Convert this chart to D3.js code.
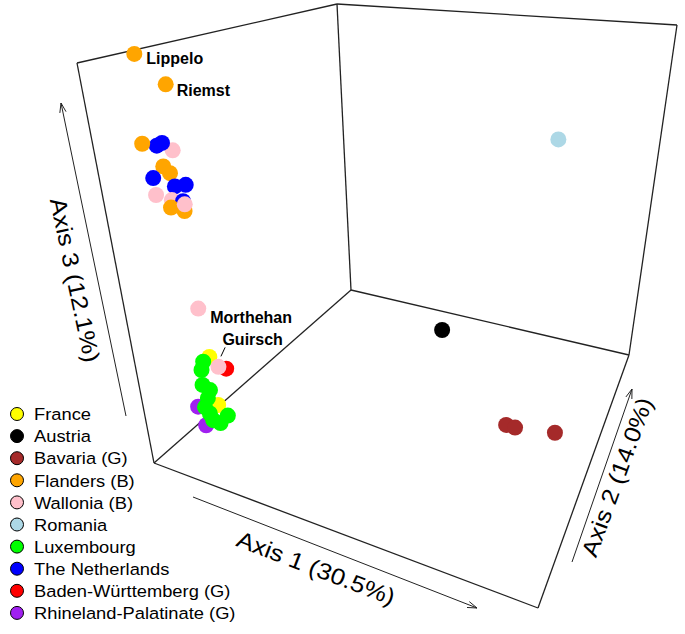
<!DOCTYPE html>
<html>
<head>
<meta charset="utf-8">
<script src="https://cdn.jsdelivr.net/npm/d3@7"></script>
<style>
body { margin: 0; background: #fff; }
text { font-family: "Liberation Sans", Arial, sans-serif; }
</style>
</head>
<body>
<script>
// groups, legend order
const groups = ['France', 'Austria', 'Bavaria (G)', 'Flanders (B)', 'Wallonia (B)', 'Romania',
  'Luxembourg', 'The Netherlands', 'Baden-Württemberg (G)', 'Rhineland-Palatinate (G)'];
const groupColors = ['#FFFF00', '#000000', '#A52A2A', '#FFA500', '#FFC0CB', '#ADD8E6',
  '#00FF00', '#0000FF', '#FF0000', '#A020F0'];

// samples, in drawing order
const ptGroup = [3, 3, 4, 7, 7, 3, 3, 3, 7, 7, 7, 4, 4, 7, 3, 3, 4,
  4, 0, 0, 9, 9, 8, 6, 6, 6, 6, 6, 6, 6, 6, 6, 6, 4,
  1, 2, 2, 2, 5];
const ptAxis1 = [-0.5, -0.5, -0.5, -0.5, -0.5, -0.5, -0.5, -0.5, -0.5, -0.5, -0.5, -0.5, -0.5, -0.5, -0.5, -0.5, -0.5,
  -0.5, -0.5, -0.5, -0.5, -0.5, -0.5, -0.5, -0.5, -0.5, -0.5, -0.5, -0.5, -0.5, -0.5, -0.5, -0.5, -0.5,
  -0.128, 0.223, 0.251, 0.368, 0.183];
const ptAxis2 = [-0.282, -0.183, -0.196, -0.255, -0.233, -0.310, -0.243, -0.221, -0.290, -0.210, -0.166, -0.290, -0.231, -0.187, -0.239, -0.187, -0.182,
  -0.194, -0.179, -0.173, -0.263, -0.241, -0.113, -0.209, -0.222, -0.228, -0.199, -0.214, -0.233, -0.216, -0.206, -0.175, -0.137, -0.146,
  0.422, 0.119, 0.119, 0.144, 0.5];
const ptAxis3 = [0.490, 0.390, 0.212, 0.239, 0.241, 0.257, 0.180, 0.156, 0.161, 0.117, 0.109, 0.116, 0.086, 0.070, 0.068, 0.043, 0.060,
  -0.222, -0.361, -0.496, -0.459, -0.519, -0.423, -0.361, -0.378, -0.416, -0.443, -0.458, -0.474, -0.499, -0.522, -0.545, -0.543, -0.403,
  -0.5, -0.5, -0.5, -0.5, 0.117];

// named samples
const labelText = ['Lippelo', 'Riemst', 'Morthehan', 'Guirsch'];
const labelPoint = [0, 1, 17, 33];

const axisTitles = ['Axis 1 (30.5%)', 'Axis 2 (14.0%)', 'Axis 3 (12.1%)'];
const axisDomain = [-0.5, 0.5];

const width = 685, height = 634;

const svg = d3.select('body').append('svg')
  .attr('width', width).attr('height', height);

svg.append('rect').attr('width', width).attr('height', height).attr('fill', '#fff');

// scales to box fractions
const s1 = d3.scaleLinear().domain(axisDomain).range([0, 1]);
const s2 = d3.scaleLinear().domain(axisDomain).range([0, 1]);
const s3 = d3.scaleLinear().domain(axisDomain).range([0, 1]);

// screen position of the box corners, key = u v w
const corner = {
  '000': [154, 463], '100': [538, 608], '010': [351, 290], '110': [629, 355],
  '001': [77, 63], '101': [610, 150], '011': [337, 4], '111': [677, 25]
};

function project(a1, a2, a3) {
  const u = s1(a1), v = s2(a2), w = s3(a3);
  let x = 0, y = 0;
  for (const k in corner) {
    const wt = (k[0] === '1' ? u : 1 - u) * (k[1] === '1' ? v : 1 - v) * (k[2] === '1' ? w : 1 - w);
    x += wt * corner[k][0];
    y += wt * corner[k][1];
  }
  return [x, y];
}

// box: the three back faces
const lo = axisDomain[0], hi = axisDomain[1];
const edges = [
  [[lo, lo, hi], [lo, hi, hi]], [[lo, hi, hi], [hi, hi, hi]], [[lo, hi, hi], [lo, hi, lo]],
  [[hi, hi, hi], [hi, hi, lo]], [[lo, hi, lo], [hi, hi, lo]], [[lo, hi, lo], [lo, lo, lo]],
  [[lo, lo, hi], [lo, lo, lo]], [[lo, lo, lo], [hi, lo, lo]], [[hi, lo, lo], [hi, hi, lo]]
];

svg.append('g').selectAll('line').data(edges).enter()
  .append('line')
  .attr('x1', d => project(...d[0])[0]).attr('y1', d => project(...d[0])[1])
  .attr('x2', d => project(...d[1])[0]).attr('y2', d => project(...d[1])[1])
  .attr('stroke', '#222').attr('stroke-width', 1.3);

// axis arrows
const arrows = [
  {x1: 193, y1: 497, x2: 477, y2: 608},
  {x1: 572, y1: 562, x2: 632, y2: 389},
  {x1: 126, y1: 416, x2: 61, y2: 103}
];
const ga = svg.append('g').attr('stroke', '#222').attr('stroke-width', 1).attr('fill', 'none');
arrows.forEach(a => {
  ga.append('line').attr('x1', a.x1).attr('y1', a.y1).attr('x2', a.x2).attr('y2', a.y2);
  const ang = Math.atan2(a.y2 - a.y1, a.x2 - a.x1);
  const len = 10, spread = 0.32;
  const p1 = [a.x2 - len * Math.cos(ang - spread), a.y2 - len * Math.sin(ang - spread)];
  const p2 = [a.x2 - len * Math.cos(ang + spread), a.y2 - len * Math.sin(ang + spread)];
  ga.append('path').attr('d', `M${p1[0]},${p1[1]}L${a.x2},${a.y2}L${p2[0]},${p2[1]}`);
});

// axis titles
const titlePos = [
  {x: 316, y: 568, rot: 21},
  {x: 617, y: 477, rot: -70},
  {x: 75, y: 280, rot: 78}
];
svg.append('g').selectAll('text').data(axisTitles).enter()
  .append('text')
  .attr('transform', (d, i) => `translate(${titlePos[i].x},${titlePos[i].y}) rotate(${titlePos[i].rot}) scale(1.12,1)`)
  .attr('text-anchor', 'middle').attr('dy', '0.35em')
  .style('font-size', '23px').attr('fill', '#000')
  .text(d => d);

// points
const pts = ptGroup.map((g, i) => ({g: g, p: project(ptAxis1[i], ptAxis2[i], ptAxis3[i])}));

svg.append('g').selectAll('circle').data(pts).enter()
  .append('circle')
  .attr('cx', d => d.p[0]).attr('cy', d => d.p[1]).attr('r', 8)
  .attr('fill', d => groupColors[d.g]);

// sample labels
const labelOff = [[12, 10], [11, 12], [12, 14], [4, -22]];
const gl = svg.append('g');
labelText.forEach((t, i) => {
  const p = pts[labelPoint[i]].p;
  gl.append('text')
    .attr('x', p[0] + labelOff[i][0]).attr('y', p[1] + labelOff[i][1])
    .style('font-size', '16px').style('font-weight', 'bold').attr('fill', '#000')
    .text(t);
});
// leader for Guirsch
const pg = pts[labelPoint[3]].p;
gl.append('line')
  .attr('x1', pg[0] + 6.7).attr('y1', pg[1] - 19.5)
  .attr('x2', pg[0] + 2.5).attr('y2', pg[1] - 10.5)
  .attr('stroke', '#000').attr('stroke-width', 1);

// legend
const legend = svg.append('g');
const row = legend.selectAll('g').data(groups).enter()
  .append('g')
  .attr('transform', (d, i) => `translate(17,${414 + i * 22.1})`);
row.append('circle').attr('r', 6.5)
  .attr('fill', (d, i) => groupColors[i]).attr('stroke', '#000').attr('stroke-width', 1);
row.append('text')
  .attr('transform', 'translate(17,6.2) scale(1.11,1)')
  .style('font-size', '16.5px').attr('fill', '#000')
  .text(d => d);
</script>
</body>
</html>
